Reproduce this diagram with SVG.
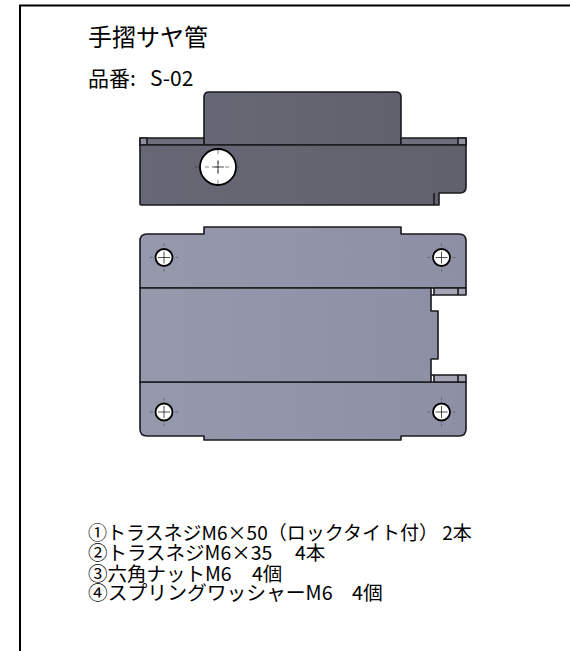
<svg xmlns="http://www.w3.org/2000/svg" width="570" height="651" viewBox="0 0 570 651">
<defs>
<linearGradient id="side" x1="0" x2="1" y1="0" y2="0"><stop offset="0" stop-color="#666875"/><stop offset="1" stop-color="#60616c"/></linearGradient>
<linearGradient id="plan" x1="0" x2="1" y1="0" y2="0"><stop offset="0" stop-color="#9698ac"/><stop offset="1" stop-color="#8d90a5"/></linearGradient>
<g id="hole"><circle r="8.500" fill="#fff" stroke="#000" stroke-width="1.800"/><path d="M-6 0H6M0-6V6" stroke="#222" stroke-width="0.800"/><path d="M-14 0H-11.500M11.500 0H14M0-14V-11.500M0 11.500V14" stroke="#555" stroke-width="0.700"/></g>
</defs>
<style>
text{font-family:"Noto Sans CJK JP","Liberation Sans",sans-serif;fill:#000}
.o{stroke:#1a1a1e;stroke-width:1.600;stroke-linejoin:round}
.l{fill:none;stroke:#1a1a1e;stroke-width:1.600}
</style>
<path id="frame" d="M20 651V5.500H570" fill="none" stroke="#000" stroke-width="2"/>
<g id="title"><text x="88" y="45.500" font-size="24">手摺サヤ管</text><text x="88" y="86" font-size="21">品番: <tspan x="150">S-02</tspan></text></g>
<g id="side-view">
<path class="o" fill="url(#side)" d="M204 145V97Q204 92 209 92H396Q401 92 401 97V145Z"/>
<path class="o" fill="#6d6f7c" d="M140 145V138H204V145ZM401 145V138H466V145Z"/>
<path class="o" fill="#8e909c" d="M140 138H147V145H140ZM458 138H466V145H458Z"/>
<path class="o" fill="url(#side)" d="M140 145H466V187Q466 193 460 193H439V205H141Q140 205 140 204Z"/>
<path class="l" d="M434 193V205"/>
<circle cx="218" cy="167" r="18" fill="#fff" stroke="#000" stroke-width="1.800"/>
<path d="M212 167H224M218 161V173" stroke="#222" stroke-width="0.800"/>
<path d="M195 167H241M218 150V190" stroke="#333" stroke-width="0.600" stroke-dasharray="4 6"/>
</g>
<g id="plan-view">
<path class="o" fill="url(#plan)" d="M140 288V241Q140 234 147 234H204V227H401V234H459Q466 234 466 241V288Z"/>
<path class="o" fill="url(#plan)" d="M140 382H466V429Q466 436 459 436H401V440H204V436H147Q140 436 140 429Z"/>
<path class="o" fill="url(#plan)" d="M140 288H431V311H438V359H431V382H140Z"/>
<path class="o" fill="#a3a5b4" d="M434 288H466V295H434ZM434 375H466V382H434Z"/>
<path class="l" d="M458 288V295M458 375V382M431 295H434M431 375H434"/>
<use href="#hole" x="164" y="257.500"/>
<use href="#hole" x="441.500" y="257.500"/>
<use href="#hole" x="164" y="412"/>
<use href="#hole" x="441.500" y="412"/>
</g>
<g id="parts" font-size="19.500">
<text x="88" y="540" font-size="19">①トラスネジM6×50（ロックタイト付） 2本</text>
<text x="88" y="560">②トラスネジM6×35 <tspan x="295">4本</tspan></text>
<text x="88" y="580.500">③六角ナットM6 <tspan x="252">4個</tspan></text>
<text x="88" y="600" font-size="19.800">④スプリングワッシャーM6 <tspan x="352">4個</tspan></text>
</g>
</svg>
